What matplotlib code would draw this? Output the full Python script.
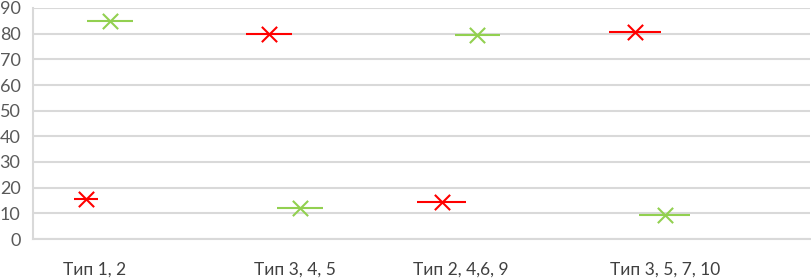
import matplotlib.pyplot as plt

# positions along x (0..100 across the plot area) and values
labels = ["Тип 1, 2", "Тип 3, 4, 5", "Тип 2, 4,6, 9", "Тип 3, 5, 7, 10"]
label_x = [7.9, 33.7, 55.0, 81.3]

red_x = [6.8, 30.4, 52.6, 77.5]
red_y = [15.5, 80, 14.5, 80.5]

green_x = [9.9, 34.4, 57.2, 81.3]
green_y = [85, 12, 79.5, 9.5]

RED = "#ff0000"
GREEN = "#92d050"

fig = plt.figure(figsize=(8.12, 2.79), dpi=100)
ax = fig.add_axes([33 / 812, 40 / 279, 777 / 812, 231 / 279])

# horizontal dash + x cross for each point
ax.scatter(red_x, red_y, marker="_", s=[17**2, 33**2, 35**2, 37**2], color=RED, linewidths=1.5, zorder=3)
ax.scatter(red_x, red_y, marker="x", s=11**2, color=RED, linewidths=1.5, zorder=3)
ax.scatter(green_x, green_y, marker="_", s=[33**2, 33**2, 33**2, 37**2], color=GREEN, linewidths=1.5, zorder=3)
ax.scatter(green_x, green_y, marker="x", s=11**2, color=GREEN, linewidths=1.5, zorder=3)

ax.set_xlim(0, 100)
ax.set_ylim(0, 90)
ax.set_yticks(range(0, 91, 10))
ax.set_xticks(label_x)
ax.set_xticklabels(labels, fontsize=12.5, color="#404040", family="Lato")
ax.tick_params(axis="x", length=0, pad=16)
ax.tick_params(axis="y", length=0, pad=9, labelsize=13, labelcolor="#595959")
for t in ax.get_yticklabels():
    t.set_family("Lato")

ax.grid(axis="y", color="#d9d9d9", linewidth=1.5)
ax.set_axisbelow(True)
for s in ["top", "right"]:
    ax.spines[s].set_visible(False)
ax.spines["left"].set_color("#d9d9d9")
ax.spines["bottom"].set_color("#d9d9d9")
ax.spines["left"].set_linewidth(1.5)
ax.spines["bottom"].set_linewidth(1.5)

fig.savefig("out.png", dpi=100)
